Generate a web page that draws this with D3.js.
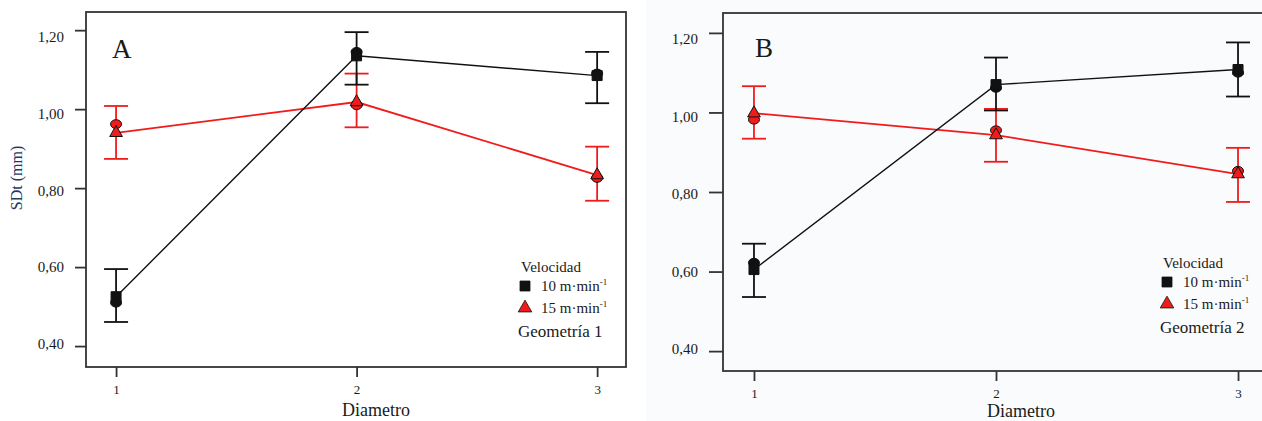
<!DOCTYPE html>
<html>
<head>
<meta charset="utf-8">
<script src="https://cdn.jsdelivr.net/npm/d3@7"></script>
<style>
  body { margin: 0; background: #fff; }
  svg { display: block; }
</style>
</head>
<body>
<svg id="chart" width="1262" height="421"></svg>
<script>
// Diametro categories (x axis)
const diametros = [1, 2, 3];
const yTicks = [0.4, 0.6, 0.8, 1.0, 1.2];

// Geometria 1 (panel A)
const a10Mean = [0.525, 1.135, 1.085];
const a10Circle = [0.510, 1.145, 1.090];
const a10Lo = [0.461, 1.062, 1.015];
const a10Hi = [0.595, 1.195, 1.145];
const a15Mean = [0.940, 1.018, 0.833];
const a15Circle = [0.962, 1.010, 0.826];
const a15Lo = [0.874, 0.954, 0.768];
const a15Hi = [1.008, 1.090, 0.905];

// Geometria 2 (panel B)
const b10Mean = [0.605, 1.070, 1.108];
const b10Circle = [0.622, 1.062, 1.100];
const b10Lo = [0.536, 1.005, 1.040];
const b10Hi = [0.670, 1.138, 1.176];
const b15Mean = [0.998, 0.943, 0.845];
const b15Circle = [0.982, 0.955, 0.853];
const b15Lo = [0.934, 0.876, 0.775];
const b15Hi = [1.066, 1.009, 0.911];

const BLACK = '#111';
const RED = '#f01c1c';
const SERIF = '"Liberation Serif", "Times New Roman", "DejaVu Serif", serif';

const svg = d3.select('#chart').attr('font-family', SERIF);

// light backdrop of the second picture
svg.append('rect')
  .attr('x', 646).attr('y', 0).attr('width', 616).attr('height', 421)
  .attr('fill', '#f9fbfc');

function label(sel, size) {
  return sel.attr('font-family', SERIF).attr('font-size', size).attr('fill', '#1a1a1a');
}

function drawPanel(opts) {
  const g = svg.append('g').attr('transform', `translate(${opts.left},${opts.top})`);

  const x = d3.scaleLinear().domain(opts.xDomain).range([0, opts.width]);
  const y = d3.scaleLinear().domain(opts.yDomain).range([opts.height, 0]);

  // frame
  g.append('rect')
    .attr('width', opts.width).attr('height', opts.height)
    .attr('fill', 'none').attr('stroke', '#333').attr('stroke-width', 1.8);

  // y axis ticks + labels
  const yAxis = g.append('g')
    .call(d3.axisLeft(y).tickValues(yTicks).tickSize(opts.yTickLen).tickPadding(11)
      .tickFormat(d => d3.format('.2f')(d).replace('.', ',')));
  yAxis.attr('font-family', SERIF);
  yAxis.select('.domain').remove();
  yAxis.selectAll('line').attr('stroke', '#333').attr('stroke-width', 1.8);
  label(yAxis.selectAll('text'), 15)
    .attr('dy', (d) => `${0.32 + (d - 0.6) * 0.7}em`);

  // x axis ticks + labels
  const xAxis = g.append('g')
    .attr('transform', `translate(0,${opts.height})`)
    .call(d3.axisBottom(x).tickValues(diametros).tickSize(10).tickPadding(8)
      .tickFormat(d3.format('d')));
  xAxis.attr('font-family', SERIF);
  xAxis.select('.domain').remove();
  xAxis.selectAll('line').attr('stroke', '#333').attr('stroke-width', 1.8);
  label(xAxis.selectAll('text'), 13);

  // x title
  label(g.append('text'), 18)
    .attr('x', opts.xTitleX).attr('y', opts.xTitleY)
    .attr('text-anchor', 'middle')
    .text('Diametro');

  // panel letter
  label(g.append('text'), 27)
    .attr('x', opts.letterX).attr('y', opts.letterY)
    .text(opts.letter);

  const series = [
    { mean: opts.s10Mean, circ: opts.s10Circle, lo: opts.s10Lo, hi: opts.s10Hi, color: BLACK, lineW: 1.4, shape: 'square' },
    { mean: opts.s15Mean, circ: opts.s15Circle, lo: opts.s15Lo, hi: opts.s15Hi, color: RED, lineW: 1.8, shape: 'triangle' }
  ];

  // draw red first so black sits above where they cross
  series.slice().reverse().forEach(s => {
    const pts = diametros.map((d, i) => ({ d, mean: s.mean[i], circ: s.circ[i], lo: s.lo[i], hi: s.hi[i] }));

    // error bars
    const eb = g.append('g').attr('stroke', s.color).attr('stroke-width', 1.8).attr('fill', 'none');
    eb.selectAll('line.v').data(pts).enter().append('line')
      .attr('x1', p => x(p.d)).attr('x2', p => x(p.d))
      .attr('y1', p => y(p.lo)).attr('y2', p => y(p.hi));
    eb.selectAll('line.hi').data(pts).enter().append('line')
      .attr('x1', p => x(p.d) - 12).attr('x2', p => x(p.d) + 12)
      .attr('y1', p => y(p.hi)).attr('y2', p => y(p.hi));
    eb.selectAll('line.lo').data(pts).enter().append('line')
      .attr('x1', p => x(p.d) - 12).attr('x2', p => x(p.d) + 12)
      .attr('y1', p => y(p.lo)).attr('y2', p => y(p.lo));

    // connecting line
    g.append('path')
      .datum(pts)
      .attr('fill', 'none')
      .attr('stroke', s.color)
      .attr('stroke-width', s.lineW)
      .attr('d', d3.line().x(p => x(p.d)).y(p => y(p.mean)));

    // circle markers
    g.selectAll(null).data(pts).enter().append('ellipse')
      .attr('cx', p => x(p.d)).attr('cy', p => y(p.circ))
      .attr('rx', 5.5).attr('ry', 4.5)
      .attr('fill', s.color === BLACK ? BLACK : RED)
      .attr('stroke', BLACK).attr('stroke-width', 1);

    // square / triangle markers
    const sym = d3.symbol()
      .type(s.shape === 'square' ? d3.symbolSquare : d3.symbolTriangle)
      .size(s.shape === 'square' ? 100 : 70);
    g.selectAll(null).data(pts).enter().append('path')
      .attr('d', sym)
      .attr('transform', p => `translate(${x(p.d)},${y(p.mean)})`)
      .attr('fill', s.color === BLACK ? BLACK : RED)
      .attr('stroke', BLACK).attr('stroke-width', 1);
  });

  // legend
  const lg = svg.append('g').attr('transform', `translate(${opts.legendX},${opts.legendY})`);
  label(lg.append('text'), 15).attr('x', 2).attr('y', 0).text('Velocidad');
  const items = [
    { shape: d3.symbolSquare, size: 100, fill: BLACK, label: '10 m\u00b7min' },
    { shape: d3.symbolTriangle, size: 80, fill: RED, label: '15 m\u00b7min' }
  ];
  items.forEach((it, i) => {
    const yy = 19 + i * 22;
    lg.append('path')
      .attr('d', d3.symbol().type(it.shape).size(it.size))
      .attr('transform', `translate(6,${yy - 5})`)
      .attr('fill', it.fill)
      .attr('stroke', BLACK).attr('stroke-width', 0.8);
    const t = label(lg.append('text'), 15).attr('x', 22).attr('y', yy);
    t.append('tspan').text(it.label);
    t.append('tspan').attr('dy', -6).attr('font-size', 9).text('-1');
  });
  label(lg.append('text'), 17).attr('x', -1).attr('y', opts.geoDy).text(opts.geometry);
}

drawPanel({
  left: 86, top: 12, width: 540, height: 355,
  xDomain: [0.875, 3.12], yDomain: [0.347, 1.246],
  yTickLen: 11,
  xTitleX: 290, xTitleY: 404,
  letter: 'A', letterX: 26, letterY: 46,
  s10Mean: a10Mean, s10Circle: a10Circle, s10Lo: a10Lo, s10Hi: a10Hi,
  s15Mean: a15Mean, s15Circle: a15Circle, s15Lo: a15Lo, s15Hi: a15Hi,
  legendX: 519, legendY: 272, geoDy: 65, geometry: 'Geometría 1'
});

drawPanel({
  left: 723, top: 13, width: 546, height: 358,
  xDomain: [0.872, 3.128], yDomain: [0.35, 1.25],
  yTickLen: 14,
  xTitleX: 298, xTitleY: 404,
  letter: 'B', letterX: 32, letterY: 44,
  s10Mean: b10Mean, s10Circle: b10Circle, s10Lo: b10Lo, s10Hi: b10Hi,
  s15Mean: b15Mean, s15Circle: b15Circle, s15Lo: b15Lo, s15Hi: b15Hi,
  legendX: 1161, legendY: 268, geoDy: 65, geometry: 'Geometría 2'
});

// y title only on panel A
svg.append('text')
  .attr('transform', 'translate(22,178) rotate(-90)')
  .attr('text-anchor', 'middle')
  .attr('font-family', SERIF)
  .attr('font-size', 16)
  .attr('fill', '#1f3a63')
  .text('SDt (mm)');
</script>
</body>
</html>
